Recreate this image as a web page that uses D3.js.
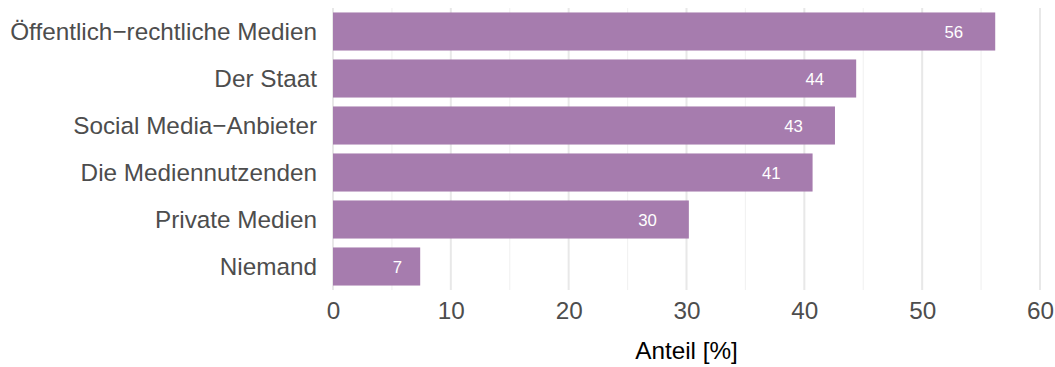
<!DOCTYPE html>
<html>
<head>
<meta charset="utf-8">
<script src="https://cdn.jsdelivr.net/npm/d3@7"></script>
<style>
  body { margin: 0; background: #fff; }
  svg { font-family: "Liberation Sans", Arial, Helvetica, sans-serif; }
</style>
</head>
<body>
<svg id="chart" width="1055" height="367"></svg>
<script>
/* data */
const categories = ["Öffentlich−rechtliche Medien", "Der Staat", "Social Media−Anbieter",
                    "Die Mediennutzenden", "Private Medien", "Niemand"];
const shares = [56.2, 44.4, 42.6, 40.7, 30.2, 7.4];
const shareLabels = ["56", "44", "43", "41", "30", "7"];
const majorTicks = [0, 10, 20, 30, 40, 50, 60];
const minorTicks = [5, 15, 25, 35, 45, 55];

const svg = d3.select("#chart");
const barColor = "#a67cae";

/* scales */
const x = d3.scaleLinear()
    .domain([0, 60])
    .range([333, 1040]);

const y = d3.scaleBand()
    .domain(categories)
    .range([8, 290])
    .paddingInner(0.19)
    .paddingOuter(0.095);

/* grid lines */
svg.append("g")
    .attr("class", "minorGrid")
    .selectAll("line")
    .data(minorTicks)
    .enter()
    .append("line")
    .attr("x1", d => x(d))
    .attr("x2", d => x(d))
    .attr("y1", 8)
    .attr("y2", 290)
    .style("stroke", "#f2f2f2")
    .style("stroke-width", 1.2);

svg.append("g")
    .attr("class", "majorGrid")
    .selectAll("line")
    .data(majorTicks)
    .enter()
    .append("line")
    .attr("x1", d => x(d))
    .attr("x2", d => x(d))
    .attr("y1", 8)
    .attr("y2", 290)
    .style("stroke", "#e8e8e8")
    .style("stroke-width", 2);

/* bars */
const rows = categories.map((c, i) => ({ cat: c, value: shares[i], label: shareLabels[i] }));

svg.selectAll(".bar")
    .data(rows)
    .enter()
    .append("rect")
    .attr("class", "bar")
    .attr("x", x(0))
    .attr("y", d => y(d.cat))
    .attr("width", d => x(d.value) - x(0))
    .attr("height", y.bandwidth())
    .style("fill", barColor);

/* value labels inside bar end */
svg.selectAll(".label")
    .data(rows)
    .enter()
    .append("text")
    .attr("class", "label")
    .attr("y", d => y(d.cat) + y.bandwidth() / 2)
    .attr("dy", "0.36em")
    .attr("text-anchor", "middle")
    .style("font-size", "16.8px")
    .style("fill", "#ffffff")
    .text(d => d.label)
    .attr("x", function (d) {
        const w = this.getComputedTextLength();
        return x(d.value) - 4 - 2 * w;
    });

/* y axis (category labels) */
const yAxis = d3.axisLeft(y).tickSize(0).tickPadding(16);
svg.append("g")
    .attr("class", "yAxis")
    .attr("transform", "translate(" + x(0) + ",0)")
    .call(yAxis)
    .call(g => g.select(".domain").remove())
    .selectAll("text")
    .attr("dy", "0.36em")
    .style("font-size", "24.3px")
    .style("font-family", "'Liberation Sans', Arial, sans-serif")
    .style("fill", "#4d4d4d");

/* x axis */
const xAxis = d3.axisBottom(x).tickValues(majorTicks).tickSize(0).tickPadding(12);
svg.append("g")
    .attr("class", "xAxis")
    .attr("transform", "translate(0,290)")
    .call(xAxis)
    .call(g => g.select(".domain").remove())
    .selectAll("text")
    .style("font-size", "24.3px")
    .style("font-family", "'Liberation Sans', Arial, sans-serif")
    .style("fill", "#4d4d4d");

/* x axis title */
svg.append("text")
    .attr("class", "xTitle")
    .attr("x", (x(0) + x(60)) / 2)
    .attr("y", 358.5)
    .attr("text-anchor", "middle")
    .style("font-size", "24.3px")
    .style("fill", "#000")
    .text("Anteil [%]");
</script>
</body>
</html>
